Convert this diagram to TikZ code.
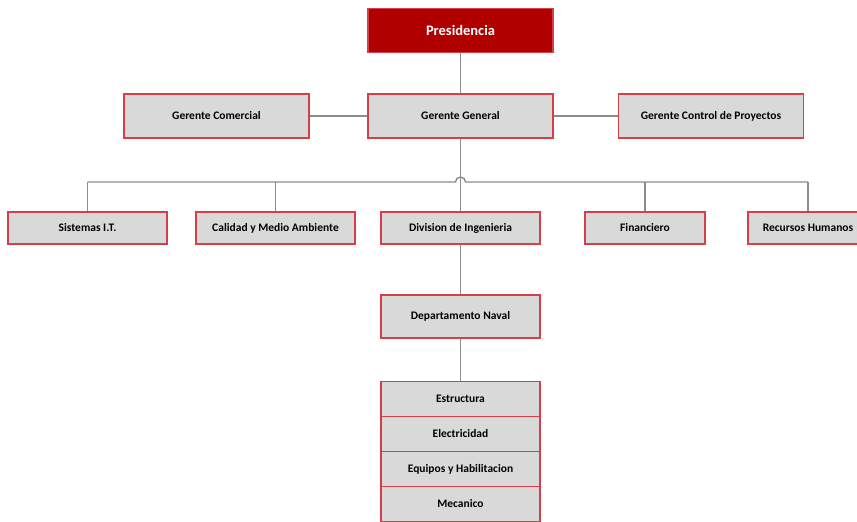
\documentclass[tikz,border=0pt]{standalone}
\usepackage{fontspec}
\setmainfont{Carlito}
\usetikzlibrary{positioning}
\definecolor{boxred}{RGB}{214,62,74}
\definecolor{presred}{RGB}{176,0,0}
\definecolor{boxgray}{RGB}{217,217,217}
\definecolor{linegray}{RGB}{140,140,140}

\begin{document}
\begin{tikzpicture}[x=1pt, y=-1pt,
    unit/.style={draw=boxred, line width=1.3pt, fill=boxgray, align=center, font=\bfseries\fontsize{11.5}{13}\selectfont, inner sep=0pt},
    big/.style={unit, minimum width=185pt, minimum height=44pt},
    small/.style={unit, minimum width=159pt, minimum height=32pt},
    narrow/.style={unit, minimum width=120pt, minimum height=32pt},
    part/.style={unit, minimum width=159pt, minimum height=35pt},
    top/.style={big, fill=presred, text=white, font=\bfseries\fontsize{14.5}{16}\selectfont},
    link/.style={draw=linegray, line width=1.4pt}
]
\path[use as bounding box, clip] (0,0) rectangle (857,522);

\coordinate (busL) at (87.5,182);
\coordinate (busR) at (808,182);

\node[top] (pres) at (460.5,30.5) {Presidencia};
\node[big] (gengral) at (460.5,116) {Gerente General};
\node[big] (comercial) at (216.5,116) {Gerente Comercial};
\node[big] (control) at (711,116) {Gerente Control de Proyectos};

\node[small] (sistemas) at (87.5,228) {Sistemas I.T.};
\node[small] (calidad) at (275.5,228) {Calidad y Medio Ambiente};
\node[small] (ingenieria) at (460.5,228) {Division de Ingenieria};
\node[narrow] (financiero) at (645,228) {Financiero};
\node[narrow] (rrhh) at (808,228) {Recursos Humanos};

\node[small, minimum height=43pt] (naval) at (460.5,316.5) {Departamento Naval};

\node[part] (estructura) at (460.5,399) {Estructura};
\node[part] (electricidad) at (460.5,434) {Electricidad};
\node[part] (equipos) at (460.5,469) {Equipos y Habilitacion};
\node[part] (mecanico) at (460.5,504) {Mecanico};

\draw[link] (pres) -- (gengral);
\draw[link] (comercial) -- (gengral);
\draw[link] (gengral) -- (control);
\draw[link] (gengral) -- (ingenieria);
\draw[link] (busL) -- ([xshift=-5pt]gengral.south |- busL) arc (180:360:5) -- (busR);
\draw[link] (busL) -- (sistemas);
\draw[link] (calidad |- busL) -- (calidad);
\draw[link] (financiero |- busL) -- (financiero);
\draw[link] (busR) -- (rrhh);
\draw[link] (ingenieria) -- (naval);
\draw[link] (naval) -- (estructura);
\end{tikzpicture}
\end{document}
